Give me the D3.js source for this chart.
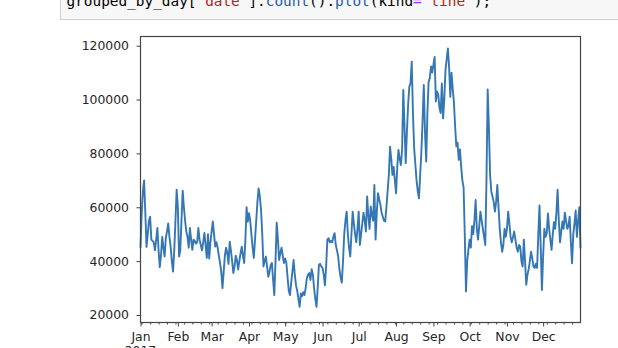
<!DOCTYPE html>
<html>
<head>
<meta charset="utf-8">
<script src="https://cdnjs.cloudflare.com/ajax/libs/d3/7.8.5/d3.min.js"></script>
<style>
body { margin: 0; background: #fff; }
svg { display: block; }
</style>
</head>
<body>
<svg id="chart"></svg>
<script>
// daily row counts, one per day starting at startDay
var startDay = '2017-01-01';
var counts = [
  45000, 58000, 66000, 70000, 58000, 45300, 50000, 55000, 56500, 48000, 47500, 47000, 44000, 48000, 52300, 44000,
  37800, 42000, 49000, 45000, 41700, 48600, 51000, 54000, 49000, 45400, 40000, 36100, 44000, 55000, 66500,
  60000, 41700, 44000, 55000, 66200, 60000, 55000, 51000, 49100, 45000, 52300, 48000, 44200, 48000, 47500, 46500,
  47000, 52300, 48000, 46000, 44000, 47000, 50500, 46000, 41200, 50000, 41000, 47000,
  51000, 54700, 50000, 45400, 47000, 45000, 42000, 39300, 36000, 30000, 36000, 42000, 45000, 43000, 39000, 47200,
  44000, 40000, 35600, 38000, 42000, 40400, 36900, 40000, 43000, 45400, 42000, 39300, 48000, 60000, 54700,
  57800, 55000, 50000, 45000, 41200, 48000, 55000, 62000, 67000, 64000, 59000, 50000, 38000, 40000, 41700,
  38000, 34200, 36000, 38500, 39300, 33000, 27400, 40000, 54300, 48000, 40400, 43000, 45000, 42000, 39300,
  41000, 39300, 34000, 29000, 27400, 32000, 36000, 40400, 35000, 31000, 29000, 26000, 23000, 28000, 27000, 28500,
  27400, 30000, 33700, 35000, 35600, 33000, 37000, 35000, 30000, 26000, 23000, 30000, 38600, 39000, 38000,
  37500, 35000, 31000, 38000, 48000, 48500, 47000, 47500, 47000, 49000, 50400, 46000, 44000, 41700, 37000,
  34000, 32000, 40000, 50000, 55000, 58400, 50000, 45000, 41700, 50000, 58400, 54000, 50000, 47000, 52000,
  58400, 46000, 50000, 54000, 58000, 55000, 51000, 64000, 57000, 52000, 60300, 57000, 55000, 68300, 48000, 58000,
  65200, 63000, 61000, 58000, 56500, 55000, 54700, 60000, 66000, 72000, 82500, 78000, 72000, 75000, 70000,
  65200, 75000, 81300, 78000, 75700, 81300, 103600, 90000, 76400, 88000, 98000, 104800, 106000, 114100, 95000, 82000,
  76000, 70000, 66000, 63300, 72000, 80700, 92000, 105400, 88000, 77000, 95000, 106600, 108000, 112300, 110000,
  113000, 115800, 99300, 103000, 101800, 97000, 95000, 106000, 93000, 100000, 111000, 115000, 119000, 112000, 101000,
  110000, 104000, 99000, 90000, 82600, 84000, 77600, 81500, 75000, 70000, 67500, 50000, 28700, 40000, 44200,
  48000, 45000, 53000, 50000, 55000, 62700, 52000, 48000, 53000, 58400, 55000, 52000, 49000, 46000, 70000, 103800,
  90000, 72000, 65800, 64000, 62000, 58400, 62000, 68300, 60000, 52000, 47000, 43500, 46000, 52000, 49000,
  52000, 58400, 54000, 49000, 47000, 49000, 51000, 48000, 45000, 43500, 46000, 45400, 40000, 38000, 48000,
  40000, 31200, 35000, 37000, 40000, 43500, 41000, 38000, 37500, 39000, 37500, 50000, 60700, 45000, 29300,
  42000, 52000, 49000, 50400, 57700, 52000, 48000, 44200, 50000, 54500, 52000, 58000, 66500, 55000, 47000, 51000,
  54700, 52000, 58000, 55000, 52000, 53000, 56500, 47000, 39200, 50000, 54000, 58800, 49000, 55000, 60000,
  44800
];
var yTicks = [20000, 40000, 60000, 80000, 100000, 120000];
var yearLabel = '2017';

// the notebook cell above the plot, cut off at the top of the shot
var codeParts = [
  {'t': 'grouped_by_day[', 'c': '#000'},
  {'t': "'date'", 'c': '#ba2121'},
  {'t': '].', 'c': '#000'},
  {'t': 'count', 'c': '#1d5ca8'},
  {'t': '().', 'c': '#000'},
  {'t': 'plot', 'c': '#1d5ca8'},
  {'t': '(kind', 'c': '#000'},
  {'t': '=', 'c': '#aa22ff'},
  {'t': "'line'", 'c': '#ba2121'},
  {'t': ');', 'c': '#000'}
];

var width = 618;
var height = 348;
var plotLeft = 140.5, plotRight = 580.5, plotTop = 36.5, plotBottom = 322.5;

var svg = d3.select('#chart')
  .attr('width', width)
  .attr('height', height);

svg.append('rect')
  .attr('x', 60.5)
  .attr('y', -5)
  .attr('width', 600)
  .attr('height', 24.5)
  .attr('fill', '#f7f7f7')
  .attr('stroke', '#cfcfcf');

var code = svg.append('text')
  .attr('x', 66.5)
  .attr('y', 6)
  .style('font-family', '"DejaVu Sans Mono", monospace')
  .style('font-size', '14.4px');

codeParts.forEach((p)=>{
  code.append('tspan').attr('fill', p.c).text(p.t);
});

var day0 = d3.timeParse('%Y-%m-%d')(startDay);
var series = counts.map((c, i)=>({'date': d3.timeDay.offset(day0, i), 'value': c}));
var firstDay = series[0].date;
var lastDay = series[series.length - 1].date;

var x = d3.scaleTime()
  .domain([firstDay, lastDay])
  .range([plotLeft, plotRight]);

var y = d3.scaleLinear()
  .domain([17215, 123416])
  .range([plotBottom, plotTop]);

svg.append('path')
  .datum(series)
  .attr('fill', 'none')
  .attr('stroke', '#3577b5')
  .attr('stroke-width', 1.9)
  .attr('stroke-linejoin', 'round')
  .attr('d', d3.line().x((d)=>x(d.date)).y((d)=>y(d.value)));

svg.append('rect')
  .attr('x', plotLeft)
  .attr('y', plotTop)
  .attr('width', plotRight - plotLeft)
  .attr('height', plotBottom - plotTop)
  .attr('fill', 'none')
  .attr('stroke', '#444')
  .attr('stroke-width', 1.2);

// month labels stop before the last day, weekly minor ticks on Mondays
var months = d3.timeMonth.range(firstDay, lastDay);
var mondays = d3.timeMonday.range(firstDay, lastDay);

var xMinor = svg.append('g')
  .attr('transform', 'translate(0,' + plotBottom + ')')
  .call(d3.axisBottom(x).tickValues(mondays).tickSize(2).tickFormat(''));

var xMajor = svg.append('g')
  .attr('transform', 'translate(0,' + plotBottom + ')')
  .call(d3.axisBottom(x).tickValues(months).tickSize(4).tickPadding(6).tickFormat(d3.timeFormat('%b')));

var yAxis = svg.append('g')
  .attr('transform', 'translate(' + plotLeft + ',0)')
  .call(d3.axisLeft(y).tickValues(yTicks).tickSize(4).tickPadding(7.5).tickFormat(d3.format('d')));

[xMinor, xMajor, yAxis].forEach((g)=>{
  g.select('.domain').remove();
  g.selectAll('line').attr('stroke', '#444');
  g.selectAll('text')
    .attr('fill', '#262626')
    .style('font-family', '"DejaVu Sans", sans-serif')
    .style('font-size', '12.4px');
});

svg.append('text')
  .attr('x', x(firstDay))
  .attr('y', 355)
  .attr('text-anchor', 'middle')
  .attr('fill', '#262626')
  .style('font-family', '"DejaVu Sans", sans-serif')
  .style('font-size', '12.4px')
  .text(yearLabel);
</script>
</body>
</html>
